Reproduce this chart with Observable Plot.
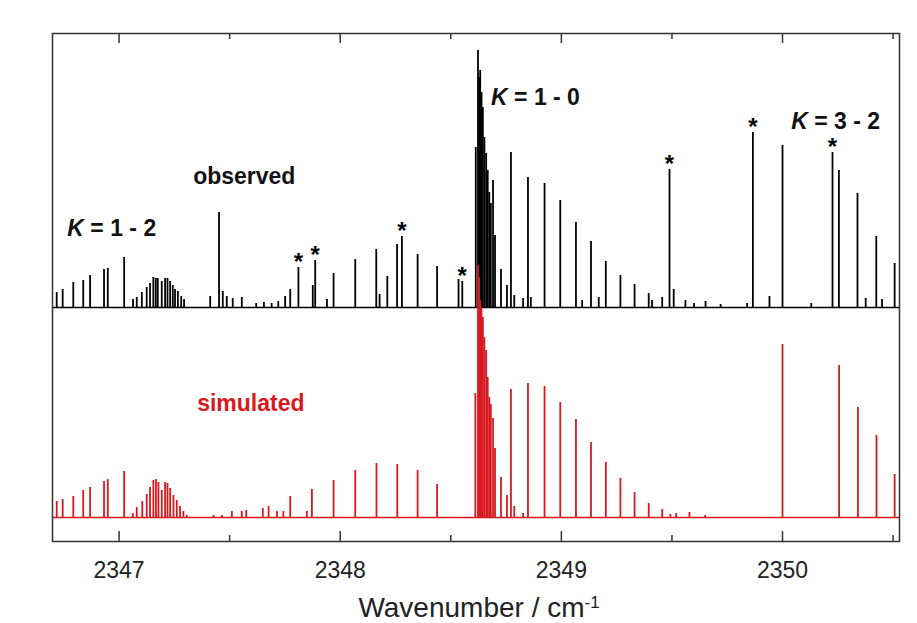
<!DOCTYPE html>
<html><head><meta charset="utf-8">
<script src="https://cdn.jsdelivr.net/npm/d3@7"></script>
<script src="https://cdn.jsdelivr.net/npm/@observablehq/plot@0.6"></script>
<style>body{margin:0;background:#fff;} svg{display:block}</style>
</head><body><div id="chart"></div>
<script>
// observed spectrum: [wavenumber (cm-1), intensity (arb. units)]
const observed = [
[2346.718,15],[2346.745,18],[2346.793,25],[2346.838,27],[2346.869,32],[2346.932,38],[2346.949,39],
[2347.023,50],[2347.063,8],[2347.080,10],[2347.103,15],[2347.125,20],[2347.140,24],[2347.155,30],
[2347.166,29],[2347.175,29],[2347.193,26],[2347.208,29],[2347.219,29],[2347.231,26],[2347.243,22],
[2347.253,18],[2347.266,16],[2347.281,11],[2347.294,8],[2347.412,11],[2347.452,95],[2347.469,16],
[2347.487,11],[2347.514,9],[2347.555,10],[2347.620,4],[2347.655,5],[2347.690,4],[2347.720,6],
[2347.751,11],[2347.774,18],[2347.811,40],[2347.876,22],[2347.887,47],[2347.940,8],[2347.970,34],
[2348.068,48],[2348.163,58],[2348.178,13],[2348.213,31],[2348.257,63],[2348.279,71],[2348.350,53],
[2348.438,41],[2348.535,28],[2348.552,26],[2348.613,160],[2348.623,257],[2348.628,230],[2348.633,237],
[2348.639,215],[2348.645,200],[2348.652,170],[2348.660,154],[2348.667,137],[2348.674,115],[2348.681,104],
[2348.691,127],[2348.700,72],[2348.727,38],[2348.754,22],[2348.772,155],[2348.787,12],[2348.827,9],
[2348.849,130],[2348.862,10],[2348.924,124],[2348.995,107],[2349.066,85],[2349.094,7],[2349.134,66],
[2349.169,10],[2349.201,46],[2349.267,32],[2349.331,23],[2349.395,14],[2349.410,7],[2349.456,10],
[2349.489,138],[2349.508,18],[2349.561,7],[2349.600,4],[2349.652,6],[2349.720,3],[2349.840,4],
[2349.866,175],[2349.941,11],[2350.000,162],[2350.130,4],[2350.226,155],[2350.255,137],[2350.339,114],
[2350.376,9],[2350.424,71],[2350.450,8],[2350.507,44]
];
// simulated spectrum: [wavenumber (cm-1), intensity (arb. units)]
const simulated = [
[2346.718,16],[2346.745,18],[2346.793,21],[2346.838,27],[2346.869,30],[2346.932,36],[2346.949,38],
[2347.023,46],[2347.062,4],[2347.080,10],[2347.105,16],[2347.125,23],[2347.140,30],[2347.155,37],
[2347.167,38],[2347.178,35],[2347.193,27],[2347.208,35],[2347.219,34],[2347.231,29],[2347.246,22],
[2347.261,17],[2347.276,11],[2347.291,6],[2347.306,2],[2347.427,2],[2347.465,2],[2347.510,6],
[2347.555,6],[2347.575,7],[2347.650,9],[2347.676,11],[2347.714,6],[2347.743,6],[2347.774,21],
[2347.849,6],[2347.872,28],[2347.970,37],[2348.068,47],[2348.164,54],[2348.258,53],[2348.350,47],
[2348.438,33],[2348.611,124],[2348.623,252],[2348.628,240],[2348.633,217],[2348.639,210],[2348.645,200],
[2348.652,180],[2348.660,167],[2348.667,140],[2348.674,120],[2348.681,113],[2348.691,99],[2348.700,69],
[2348.727,40],[2348.754,22],[2348.772,128],[2348.787,11],[2348.827,4],[2348.849,134],[2348.924,131],
[2348.995,115],[2349.066,98],[2349.134,75],[2349.201,55],[2349.267,39],[2349.331,25],[2349.395,14],
[2349.456,8],[2349.493,3],[2349.519,4],[2349.579,5],[2349.650,2],[2350.000,173],[2350.256,152],
[2350.341,110],[2350.425,82],[2350.507,43]
];
// lines marked with an asterisk in the observed trace
const starred = [2347.811, 2347.887, 2348.279, 2348.552, 2349.489, 2349.866, 2350.226];
const majorTicks = [2347, 2348, 2349, 2350];
const minorTicks = [2347.5, 2348.5, 2349.5, 2350.5];
const xDomain = [2346.699, 2350.529];
const yDomain = [-24, 484];
const obsOffset = 210;
const simOffset = 0;
const labels = [
  {text: "K = 1 - 2", x: 2346.766, y: 282, fill: "#111"},
  {text: "K = 1 - 0", x: 2348.682, y: 413, fill: "#111"},
  {text: "K = 3 - 2", x: 2350.039, y: 389, fill: "#111"},
  {text: "observed", x: 2347.335, y: 334, fill: "#111"},
  {text: "simulated", x: 2347.353, y: 107, fill: "#d7191f"}
];
const black = "#000", red = "#d7191f", axisColor = "#333";

const obs = observed.map(([wn, I]) => ({wn, base: obsOffset, top: obsOffset + I}));
const sim = simulated.map(([wn, I]) => ({wn, base: simOffset, top: simOffset + I}));
const stars = starred.map(wn => {
  const m = observed.find(d => Math.abs(d[0] - wn) < 1e-6);
  return {wn, top: obsOffset + m[1]};
});

const marginTop = 33, marginBottom = 82, height = 623;
const frameH = height - marginTop - marginBottom;
const font = "'Liberation Sans', Arial, Helvetica, sans-serif";

const plot = Plot.plot({
  width: 917, height,
  marginTop, marginBottom, marginLeft: 52, marginRight: 18,
  x: {domain: xDomain},
  y: {domain: yDomain, axis: null},
  style: {fontFamily: font, fontSize: "22px", color: "#222", background: "#fff"},
  marks: [
    Plot.ruleY([obsOffset], {stroke: black, strokeWidth: 1.3}),
    Plot.ruleX(obs, {x: "wn", y1: "base", y2: "top", stroke: black, strokeWidth: 1.8}),
    Plot.ruleY([simOffset], {stroke: red, strokeWidth: 1.4}),
    Plot.ruleX(sim, {x: "wn", y1: "base", y2: "top", stroke: red, strokeWidth: 1.8}),
    Plot.text(stars, {x: "wn", y: "top", text: () => "*", lineAnchor: "bottom", dy: 2, fontSize: 24, fontWeight: "bold", fill: black}),
    Plot.text(labels, {x: "x", y: "y", text: "text", fill: "fill", textAnchor: "start", lineAnchor: "bottom", fontSize: 23, fontWeight: "bold"}),
    Plot.frame({stroke: axisColor, strokeWidth: 1.5}),
    Plot.ruleX(majorTicks, {insetTop: frameH - 10, stroke: axisColor, strokeWidth: 1.5}),
    Plot.ruleX(majorTicks, {insetBottom: frameH - 10, stroke: axisColor, strokeWidth: 1.5}),
    Plot.ruleX(minorTicks, {insetTop: frameH - 6, stroke: axisColor, strokeWidth: 1.5}),
    Plot.ruleX(minorTicks, {insetBottom: frameH - 6, stroke: axisColor, strokeWidth: 1.5}),
    Plot.axisX({ticks: majorTicks, tickSize: 0, tickPadding: 20, tickFormat: d => String(d), fontSize: 23, label: null, fill: "#222"}),
    Plot.text(["Wavenumber / cm"], {frameAnchor: "bottom", dy: 75, dx: 3, lineAnchor: "bottom", fontSize: 28, fill: "#222"})
  ]
});

d3.select(plot).selectAll("text").each(function () {
  const t = this.textContent;
  const sel = d3.select(this);
  if (t.startsWith("K = ")) {
    sel.text(null);
    sel.append("tspan").attr("font-style", "italic").text("K");
    sel.append("tspan").text(t.slice(1));
  } else if (t === "Wavenumber / cm") {
    sel.append("tspan").attr("dy", -9).attr("font-size", 17).text("-1");
  }
});

document.getElementById("chart").appendChild(plot);
</script>
</body></html>
